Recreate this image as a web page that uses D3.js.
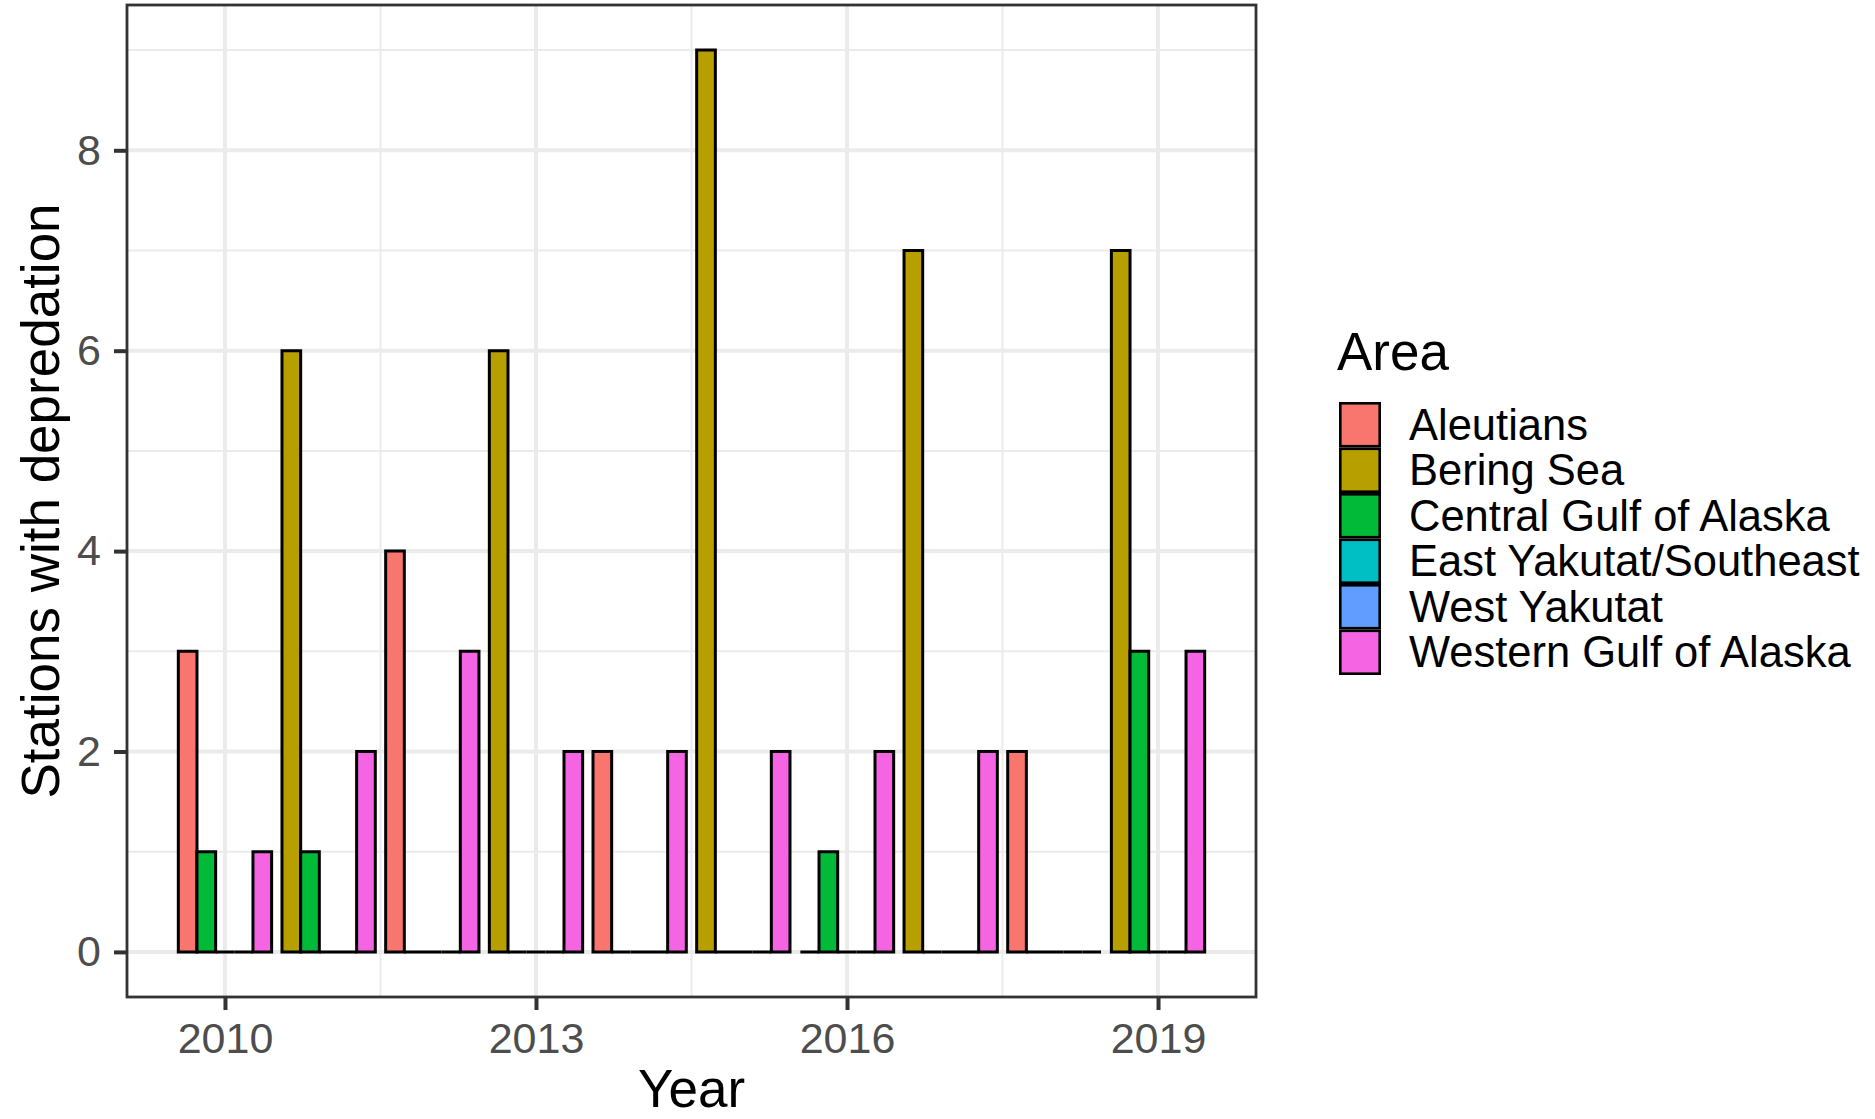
<!DOCTYPE html>
<html>
<head>
<meta charset="utf-8">
<script src="https://cdn.jsdelivr.net/npm/d3@7"></script>
<style>
  html, body { margin: 0; padding: 0; background: #ffffff; }
  svg { display: block; font-family: "Liberation Sans", Arial, sans-serif; }
</style>
</head>
<body>
<svg id="chart" width="1875" height="1119"></svg>
<script>
// ---- data ----
const years = [2010, 2011, 2012, 2013, 2014, 2015, 2016, 2017, 2018, 2019];
const areas = ["Aleutians", "Bering Sea", "Central Gulf of Alaska", "East Yakutat/Southeast", "West Yakutat", "Western Gulf of Alaska"];
const areaColors = ["#F8766D", "#B79F00", "#00BA38", "#00BFC4", "#619CFF", "#F564E3"];
// null = area not present that year (not dodged), 0 = present with zero stations
const aleutians   = [3, null, 4, null, 2, null, 0, null, 2, null];
const beringSea   = [null, 6, null, 6, null, 9, null, 7, null, 7];
const centralGOA  = [1, 1, 0, 0, 0, 0, 1, 0, 0, 3];
const eastYakutat = [0, 0, 0, 0, 0, 0, 0, 0, 0, 0];
const westYakutat = [0, 0, 0, 0, 0, 0, 0, 0, 0, 0];
const westernGOA  = [1, 2, 3, 2, 2, 2, 2, 2, 0, 3];
const seriesValues = [aleutians, beringSea, centralGOA, eastYakutat, westYakutat, westernGOA];
const xTicks = [2010, 2013, 2016, 2019];
const xMinor = [2011.5, 2014.5, 2017.5];
const yTicks = [0, 2, 4, 6, 8];
const yMinor = [1, 3, 5, 7, 9];

// ---- layout ----
const svg = d3.select("#chart");
const panel = { left: 127, right: 1256, top: 5, bottom: 997 };
const barWidth = 0.9;

// ggplot-style expansion (5%)
const xLo = d3.min(years) - barWidth / 2, xHi = d3.max(years) + barWidth / 2;
const xPad = (xHi - xLo) * 0.05;
const yMax = d3.max(seriesValues.flat().filter(v => v != null));
const yPad = yMax * 0.05;

const x = d3.scaleLinear().domain([xLo - xPad, xHi + xPad]).range([panel.left, panel.right]);
const y = d3.scaleLinear().domain([-yPad, yMax + yPad]).range([panel.bottom, panel.top]);

// build dodged bar records
const bars = [];
years.forEach((yr, yi) => {
  const present = [];
  seriesValues.forEach((s, ai) => { if (s[yi] != null) present.push({ ai, v: s[yi] }); });
  const w = barWidth / present.length;
  present.forEach((p, k) => {
    bars.push({ year: yr, area: areas[p.ai], color: areaColors[p.ai], value: p.v,
                x0: yr - barWidth / 2 + k * w, x1: yr - barWidth / 2 + (k + 1) * w });
  });
});

// panel background
svg.append("rect").attr("x", panel.left).attr("y", panel.top)
  .attr("width", panel.right - panel.left).attr("height", panel.bottom - panel.top)
  .attr("fill", "#ffffff");

const grid = svg.append("g");
// minor grid
grid.selectAll(".ymin").data(yMinor).join("line")
  .attr("x1", panel.left).attr("x2", panel.right)
  .attr("y1", d => y(d)).attr("y2", d => y(d))
  .attr("stroke", "#EBEBEB").attr("stroke-width", 2);
grid.selectAll(".xmin").data(xMinor).join("line")
  .attr("y1", panel.top).attr("y2", panel.bottom)
  .attr("x1", d => x(d)).attr("x2", d => x(d))
  .attr("stroke", "#EBEBEB").attr("stroke-width", 2);
// major grid
grid.selectAll(".ymaj").data(yTicks).join("line")
  .attr("x1", panel.left).attr("x2", panel.right)
  .attr("y1", d => y(d)).attr("y2", d => y(d))
  .attr("stroke", "#EBEBEB").attr("stroke-width", 4);
grid.selectAll(".xmaj").data(xTicks).join("line")
  .attr("y1", panel.top).attr("y2", panel.bottom)
  .attr("x1", d => x(d)).attr("x2", d => x(d))
  .attr("stroke", "#EBEBEB").attr("stroke-width", 4);

// bars (paths so zero-height bars still stroke as a line)
svg.append("g").selectAll("path").data(bars).join("path")
  .attr("d", d => {
    const l = x(d.x0), r = x(d.x1), t = y(d.value), b = y(0);
    return `M${l},${b}L${l},${t}L${r},${t}L${r},${b}Z`;
  })
  .attr("fill", d => d.color)
  .attr("stroke", "#000000")
  .attr("stroke-width", 3)
  .attr("stroke-linejoin", "miter");

// panel border
svg.append("rect").attr("x", panel.left).attr("y", panel.top)
  .attr("width", panel.right - panel.left).attr("height", panel.bottom - panel.top)
  .attr("fill", "none").attr("stroke", "#333333").attr("stroke-width", 2.8);

// axes
const xAxis = d3.axisBottom(x).tickValues(xTicks).tickFormat(d3.format("d")).tickSize(13).tickPadding(12);
const yAxis = d3.axisLeft(y).tickValues(yTicks).tickFormat(d3.format("d")).tickSize(13).tickPadding(13);

const gx = svg.append("g").attr("transform", `translate(0,${panel.bottom})`).call(xAxis);
const gy = svg.append("g").attr("transform", `translate(${panel.left},0)`).call(yAxis);
[gx, gy].forEach(g => {
  g.select(".domain").remove();
  g.selectAll(".tick line").attr("stroke", "#333333").attr("stroke-width", 4);
  g.selectAll(".tick text").attr("fill", "#4D4D4D")
    .style("font-size", "43px").style("font-family", "'Liberation Sans', Arial, sans-serif");
});
gx.selectAll(".tick text").attr("dy", "0.71em");

// axis titles
svg.append("text").attr("x", (panel.left + panel.right) / 2).attr("y", 1107)
  .attr("text-anchor", "middle").attr("fill", "#000000")
  .style("font-size", "53px").text("Year");
svg.append("text").attr("transform", `translate(59,${(panel.top + panel.bottom) / 2}) rotate(-90)`)
  .attr("text-anchor", "middle").attr("fill", "#000000")
  .style("font-size", "53px").text("Stations with depredation");

// legend
const legend = svg.append("g");
legend.append("text").attr("x", 1337).attr("y", 370).attr("fill", "#000000")
  .style("font-size", "53px").text("Area");
const keyX = 1339, keyW = 42, keyTop = 402, keyH = 45.5;
const items = legend.selectAll(".item").data(areas).join("g")
  .attr("transform", (d, i) => `translate(${keyX},${keyTop + i * keyH})`);
items.append("rect").attr("x", 1.3).attr("y", 1.3)
  .attr("width", keyW - 2.6).attr("height", keyH - 2.6)
  .attr("fill", (d, i) => areaColors[i]).attr("stroke", "#000000").attr("stroke-width", 2.6);
items.append("text").attr("x", 70).attr("y", keyH / 2).attr("dy", "0.35em")
  .attr("fill", "#000000").style("font-size", "43.5px").text(d => d);
</script>
</body>
</html>
